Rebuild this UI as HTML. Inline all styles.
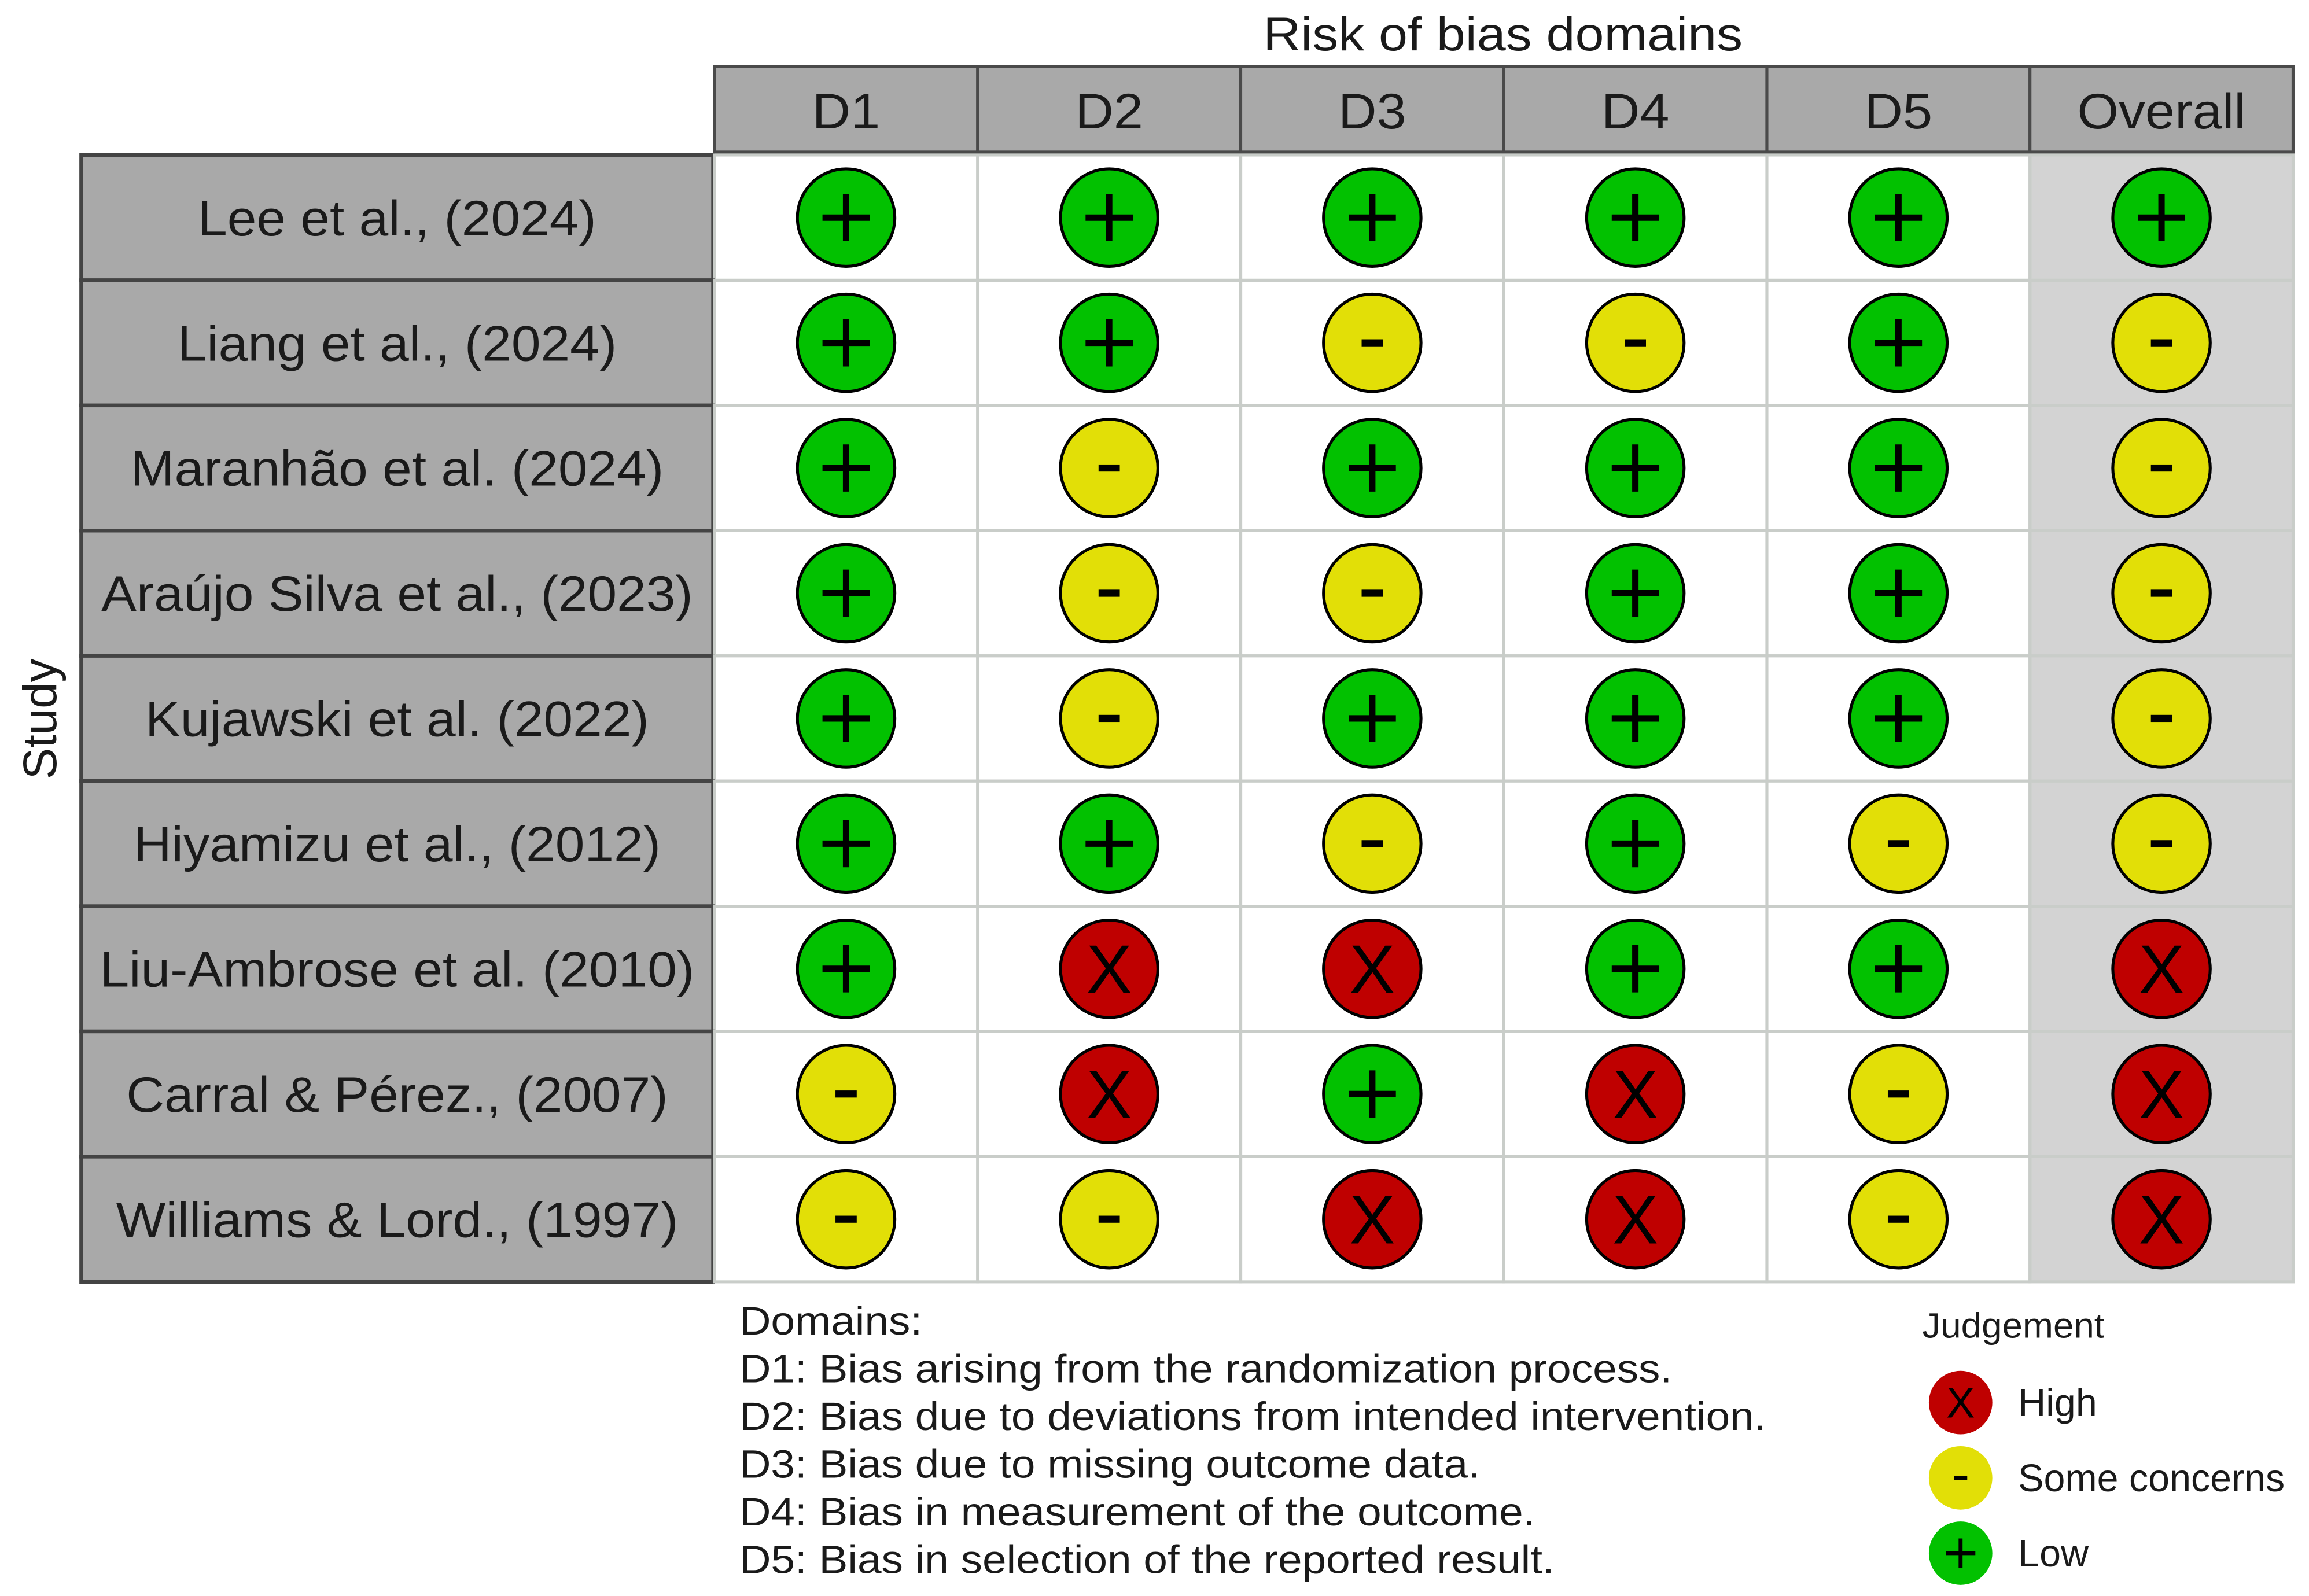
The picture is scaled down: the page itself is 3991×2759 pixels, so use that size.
<!DOCTYPE html>
<html><head><meta charset="utf-8"><style>
html,body{margin:0;padding:0;background:#fff;}
svg{display:block;}
text{font-family:"Liberation Sans",Arial,sans-serif;fill:#1a1a1a;}
</style></head><body>
<svg id="chart" width="3991" height="2759" viewBox="0 0 1564 1081" preserveAspectRatio="none" xmlns="http://www.w3.org/2000/svg">
<g id="g"></g>
</svg>
<script>
const domains = ["D1","D2","D3","D4","D5","Overall"];
const studies = ["Lee et al., (2024)","Liang et al., (2024)","Maranhão et al. (2024)","Araújo Silva et al., (2023)","Kujawski et al. (2022)","Hiyamizu et al., (2012)","Liu-Ambrose et al. (2010)","Carral & Pérez., (2007)","Williams & Lord., (1997)"];
// L = low, S = some concerns, H = high
const judgements = [
 ["L","L","L","L","L","L"],
 ["L","L","S","S","L","S"],
 ["L","S","L","L","L","S"],
 ["L","S","S","L","L","S"],
 ["L","S","L","L","L","S"],
 ["L","L","S","L","S","S"],
 ["L","H","H","L","L","H"],
 ["S","H","L","H","S","H"],
 ["S","S","H","H","S","H"]
];
const domainNotes = ["Domains:","D1: Bias arising from the randomization process.","D2: Bias due to deviations from intended intervention.","D3: Bias due to missing outcome data.","D4: Bias in measurement of the outcome.","D5: Bias in selection of the reported result."];
const legendKeys = ["H","S","L"];
const legendLabels = ["High","Some concerns","Low"];

const NS="http://www.w3.org/2000/svg";
const g=document.getElementById('g');
function el(tag,attrs,parent){const e=document.createElementNS(NS,tag);for(const k in attrs)e.setAttribute(k,attrs[k]);(parent||g).appendChild(e);return e;}
function stretch(t,f){const w=t.getComputedTextLength();t.setAttribute('textLength',w*f);t.setAttribute('lengthAdjust','spacingAndGlyphs');}
const fill={L:"#02c100",S:"#e2df07",H:"#bf0000"};

function drawSymbol(v,cx,cy,sz){
  if(v==='L'){
    const p=el('path',{d:`M${cx-sz} ${cy}H${cx+sz}M${cx} ${cy-sz}V${cy+sz}`,stroke:'#000','stroke-width':sz*0.27,fill:'none'});
    
    
  } else if(v==='S'){
    const p=el('rect',{x:cx-sz*0.45,y:cy-sz*0.15,width:sz*0.9,height:sz*0.3,fill:'#000'});
    
    
  } else {
    const s=el('text',{x:cx,y:cy+sz*1.02,'text-anchor':'middle','font-size':sz*2.9});
    s.setAttribute('style','fill:#000');
    s.textContent='X';
    
    
  }
}

const x0=484,colW=178.2,hdrTop=45,hdrH=58,y0=105,rowH=84.8,sx0=55,sx1=483;
const xCol=i=>x0+i*colW;
const yRow=j=>y0+j*rowH;

let t=el('text',{x:1018,y:34,'text-anchor':'middle','font-size':32});
t.textContent="Risk of bias domains";


stretch(t,1.1);

domains.forEach((d,i)=>{
  const r=el('rect',{x:xCol(i),y:hdrTop,width:colW,height:hdrH,fill:'#a9a9a9',stroke:'#4a4a4a','stroke-width':2});
  
  
  const tt=el('text',{x:xCol(i)+colW/2,y:hdrTop+42,'text-anchor':'middle','font-size':34});
  tt.textContent=d;
  
  
  stretch(tt,1.06);
});

const ob=el('rect',{x:xCol(5),y:y0,width:colW,height:rowH*studies.length,fill:'#d3d3d3'});



studies.forEach((s,j)=>{
  const r=el('rect',{x:sx0,y:yRow(j),width:sx1-sx0,height:rowH,fill:'#a9a9a9',stroke:'#444','stroke-width':2.5});
  
  
  const tt=el('text',{x:(sx0+sx1)/2,y:yRow(j)+rowH/2+12,'text-anchor':'middle','font-size':34});
  tt.textContent=s;
  
  
  stretch(tt,1.05);
  domains.forEach((d,i)=>{
    const c=el('rect',{x:xCol(i),y:yRow(j),width:colW,height:rowH,fill:'none',stroke:'#c9cdc9','stroke-width':2});
    
    
    const v=judgements[j][i];
    const cx=xCol(i)+colW/2, cy=yRow(j)+rowH/2;
    const ci=el('circle',{cx:cx,cy:cy,r:33,fill:fill[v],stroke:'#000','stroke-width':2});
    
    
    drawSymbol(v,cx,cy,16);
  });
});

const ya=el('text',{x:0,y:0,'text-anchor':'middle','font-size':32,transform:'translate(38,487) rotate(-90)'});
ya.textContent="Study";



domainNotes.forEach((n,k)=>{
  const tt=el('text',{x:501,y:904+k*32.3,'font-size':27});
  tt.textContent=n;
  
  
  stretch(tt,1.085);
});

const lt=el('text',{x:1302,y:906,'font-size':24});
lt.textContent="Judgement";


stretch(lt,1.04);
legendKeys.forEach((k,i)=>{
  const cy=950+i*51;
  const c=el('circle',{cx:1328,cy:cy,r:21.5,fill:fill[k]});
  
  
  drawSymbol(k,1328,cy,10);
  const l=el('text',{x:1367,y:cy+9,'font-size':26});
  l.textContent=legendLabels[i];
  
  
});
</script>
</body></html>
